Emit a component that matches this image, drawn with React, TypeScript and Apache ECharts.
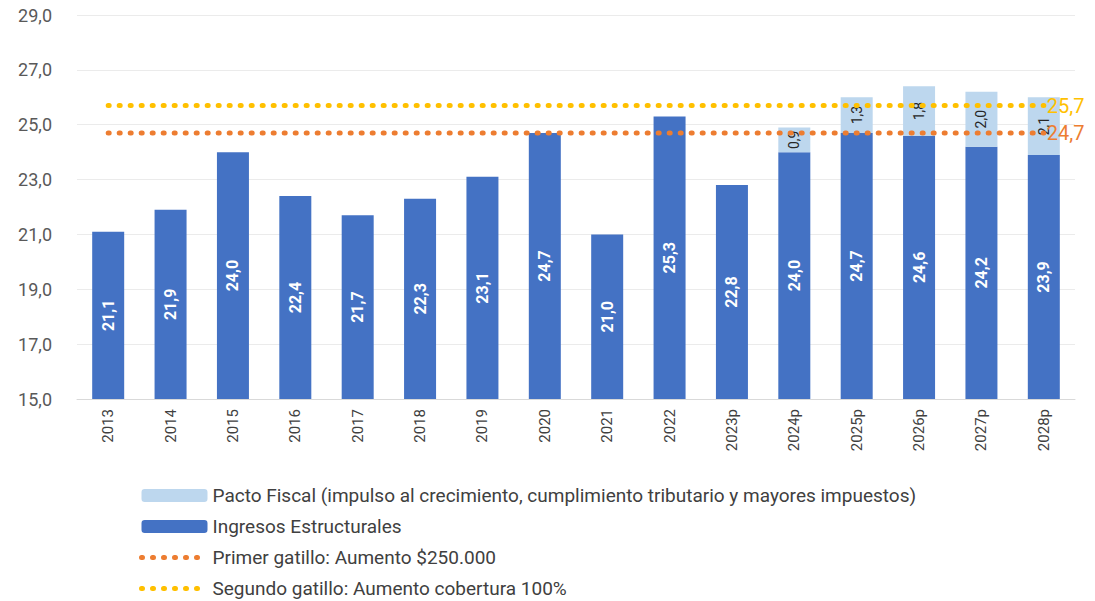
import React, { useEffect, useRef } from "react";
import * as echarts from "echarts";

const categories = ["2013","2014","2015","2016","2017","2018","2019","2020","2021","2022","2023p","2024p","2025p","2026p","2027p","2028p"];
const ingresos = [21.1,21.9,24.0,22.4,21.7,22.3,23.1,24.7,21.0,25.3,22.8,24.0,24.7,24.6,24.2,23.9];
const pacto = [null,null,null,null,null,null,null,null,null,null,null,0.9,1.3,1.8,2.0,2.1];
const primerGatillo = [24.7,24.7,24.7,24.7,24.7,24.7,24.7,24.7,24.7,24.7,24.7,24.7,24.7,24.7,24.7,24.7];
const segundoGatillo = [25.7,25.7,25.7,25.7,25.7,25.7,25.7,25.7,25.7,25.7,25.7,25.7,25.7,25.7,25.7,25.7];
const yTicks = { min: 15, max: 29, interval: 2 };

const FONT = "Roboto, sans-serif";
const fmt = (v: number) => v.toFixed(1).replace(".", ",");

export default function App() {
  const ref = useRef<HTMLDivElement>(null);
  useEffect(() => {
    if (!ref.current) return;
    const chart = echarts.init(ref.current, undefined, { renderer: "svg" });
    chart.setOption({
      animation: false,
      textStyle: { fontFamily: FONT },
      grid: { left: 77, right: 20, top: 15, bottom: 202, containLabel: false },
      legend: {
        orient: "vertical",
        left: 134,
        top: 481,
        height: 130,
        itemWidth: 66,
        itemHeight: 13,
        itemGap: 12,
        lineStyle: { width: 5, type: [1, 10], cap: "round" },
        textStyle: { fontFamily: FONT, fontSize: 19, color: "#404040" },
        data: [
          { name: "Pacto Fiscal (impulso al crecimiento, cumplimiento tributario y mayores impuestos)" },
          { name: "Ingresos Estructurales" },
          { name: "Primer gatillo: Aumento $250.000", itemStyle: { opacity: 0 } },
          { name: "Segundo gatillo: Aumento cobertura 100%", itemStyle: { opacity: 0 } },
        ],
      },
      xAxis: {
        type: "category",
        data: categories,
        axisLine: { lineStyle: { color: "#d9d9d9", width: 1 } },
        axisTick: { show: false },
        axisLabel: { rotate: 90, color: "#404040", fontSize: 15, margin: 10, fontFamily: FONT },
      },
      yAxis: {
        type: "value",
        min: yTicks.min,
        max: yTicks.max,
        interval: yTicks.interval,
        axisLine: { show: false },
        axisTick: { show: false },
        splitLine: { lineStyle: { color: "#ebebeb", width: 1 } },
        axisLabel: { color: "#595959", fontSize: 18, margin: 25, formatter: (v: number) => fmt(v), fontFamily: FONT },
      },
      series: [
        {
          name: "Ingresos Estructurales",
          type: "bar",
          stack: "total",
          data: ingresos,
          barWidth: 32,
          itemStyle: { color: "#4472C4" },
          label: {
            show: true,
            position: "inside",
            rotate: 90,
            color: "#ffffff",
            fontSize: 16,
            fontWeight: "bold",
            fontFamily: FONT,
            formatter: (p: any) => fmt(p.value),
          },
        },
        {
          name: "Pacto Fiscal (impulso al crecimiento, cumplimiento tributario y mayores impuestos)",
          type: "bar",
          stack: "total",
          data: pacto,
          barWidth: 32,
          itemStyle: { color: "#BDD7EE" },
          label: {
            show: true,
            position: "inside",
            rotate: 90,
            color: "#262626",
            fontSize: 14,
            fontFamily: FONT,
            formatter: (p: any) => (p.value == null ? "" : fmt(p.value)),
          },
        },
        {
          name: "Primer gatillo: Aumento $250.000",
          type: "line",
          data: primerGatillo,
          symbol: "none",
          z: 5,
          lineStyle: { color: "#ED7D31", width: 5, type: [1, 10], cap: "round" },
          itemStyle: { color: "#ED7D31" },
          endLabel: {
            show: true,
            color: "#ED7D31",
            fontSize: 20,
            fontFamily: FONT,
            distance: 3,
            formatter: (p: any) => fmt(p.value),
          },
        },
        {
          name: "Segundo gatillo: Aumento cobertura 100%",
          type: "line",
          data: segundoGatillo,
          symbol: "none",
          z: 5,
          lineStyle: { color: "#FFC000", width: 5, type: [1, 10], cap: "round" },
          itemStyle: { color: "#FFC000" },
          endLabel: {
            show: true,
            color: "#FFC000",
            fontSize: 20,
            fontFamily: FONT,
            distance: 3,
            formatter: (p: any) => fmt(p.value),
          },
        },
      ],
    });
    return () => chart.dispose();
  }, []);
  return <div ref={ref} style={{ width: 1095, height: 601, position: "absolute", left: 0, top: 0 }} />;
}
